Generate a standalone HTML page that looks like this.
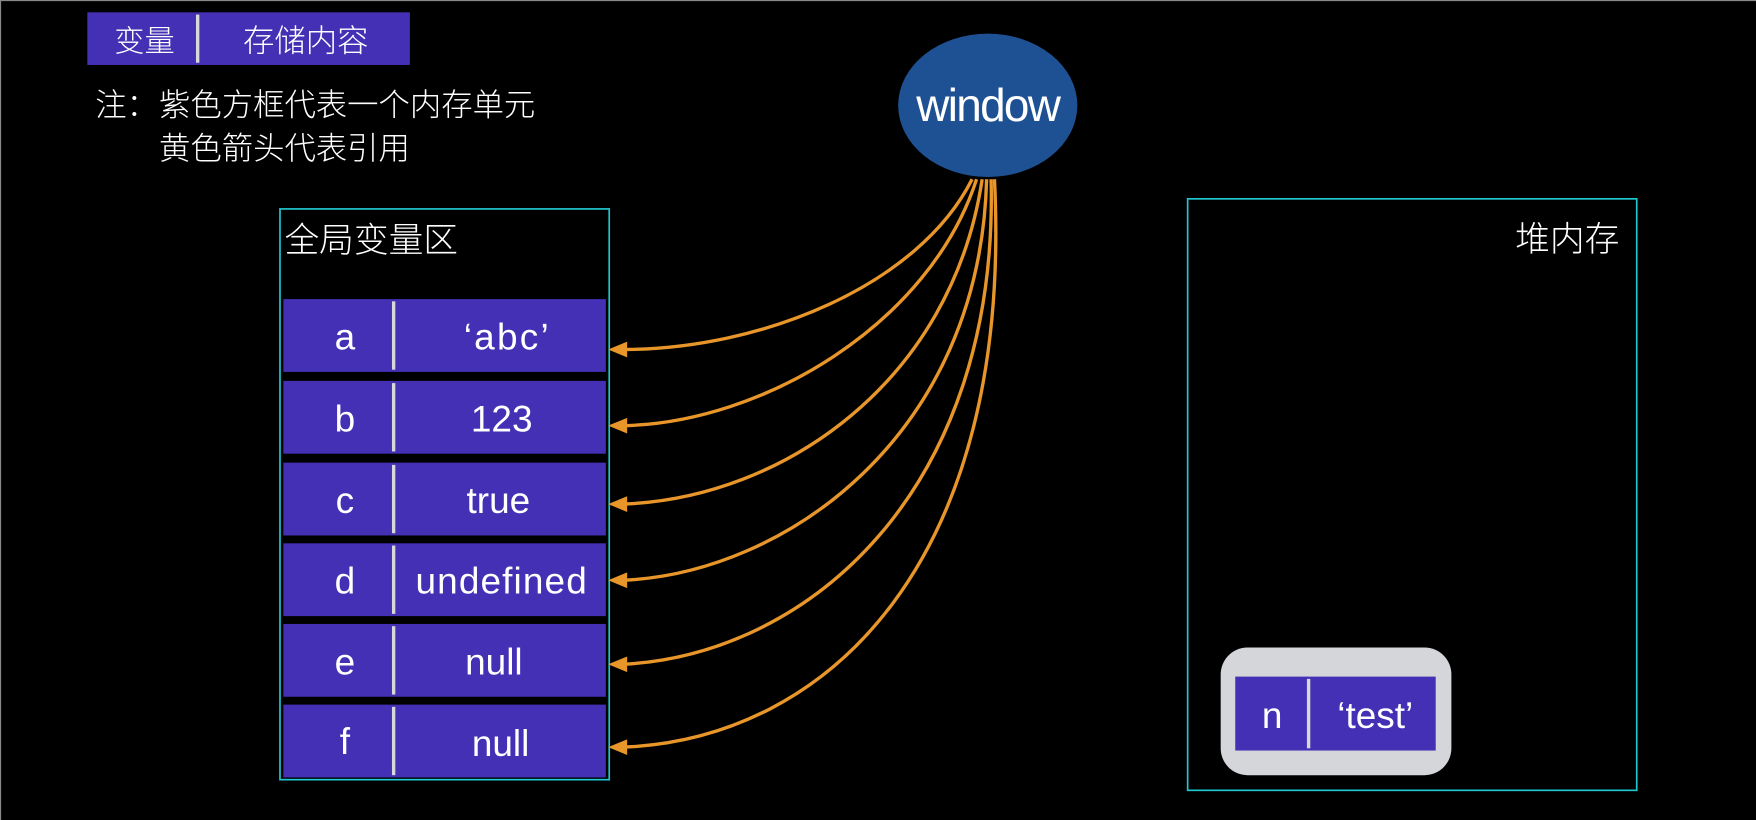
<!DOCTYPE html>
<html><head><meta charset="utf-8"><style>
html,body{margin:0;padding:0;background:#000;width:1756px;height:820px;overflow:hidden}
svg{display:block}
text{font-family:"Liberation Sans","Noto Sans CJK SC",sans-serif;fill:#fff}
.c{font-family:"Noto Sans CJK SC","WenQuanYi Zen Hei",sans-serif;font-weight:300}
</style></head><body>
<svg width="1756" height="820" viewBox="0 0 1568 732" preserveAspectRatio="none">
<rect x="0" y="0" width="1568" height="732" fill="#000"/>
<line x1="0" y1="0.5" x2="1568" y2="0.5" stroke="#888" stroke-width="1"/>
<line x1="0.5" y1="0" x2="0.5" y2="732" stroke="#888" stroke-width="1"/>
<!-- legend -->
<rect x="78" y="11" width="288" height="47" fill="#4330b5"/>
<rect x="175" y="13" width="3" height="43" fill="#d8d8d8"/>
<text class="c" x="129" y="46" font-size="27" text-anchor="middle">变量</text>
<text class="c" x="273" y="46" font-size="28" text-anchor="middle">存储内容</text>
<text class="c" x="85" y="103" font-size="28">注：</text>
<text class="c" x="142" y="103" font-size="28">紫色方框代表一个内存单元</text>
<text class="c" x="142" y="142" font-size="28">黄色箭头代表引用</text>
<!-- global area -->
<rect x="250" y="186.5" width="294" height="509.5" fill="none" stroke="#1fc7d0" stroke-width="1.5"/>
<text class="c" x="254" y="225" font-size="31">全局变量区</text>
<g font-size="33">
<rect x="253" y="267" width="288" height="65" fill="#4330b5"/><rect x="350" y="269" width="3" height="61" fill="#d8d8d8"/>
<text x="308" y="312" text-anchor="middle">a</text><text x="453" y="312" text-anchor="middle" letter-spacing="2">‘abc’</text>
<rect x="253" y="340" width="288" height="65" fill="#4330b5"/><rect x="350" y="342" width="3" height="61" fill="#d8d8d8"/>
<text x="308" y="385" text-anchor="middle">b</text><text x="448" y="385" text-anchor="middle">123</text>
<rect x="253" y="413" width="288" height="65" fill="#4330b5"/><rect x="350" y="415" width="3" height="61" fill="#d8d8d8"/>
<text x="308" y="458" text-anchor="middle">c</text><text x="445" y="458" text-anchor="middle">true</text>
<rect x="253" y="485" width="288" height="65" fill="#4330b5"/><rect x="350" y="487" width="3" height="61" fill="#d8d8d8"/>
<text x="308" y="530" text-anchor="middle">d</text><text x="448" y="530" text-anchor="middle" letter-spacing="1">undefined</text>
<rect x="253" y="557" width="288" height="65" fill="#4330b5"/><rect x="350" y="559" width="3" height="61" fill="#d8d8d8"/>
<text x="308" y="602" text-anchor="middle">e</text><text x="441" y="602" text-anchor="middle">null</text>
<rect x="253" y="629" width="288" height="65" fill="#4330b5"/><rect x="350" y="631" width="3" height="61" fill="#d8d8d8"/>
<text x="308" y="673" text-anchor="middle">f</text><text x="447" y="675" text-anchor="middle">null</text>
</g>
<!-- window -->
<ellipse cx="882" cy="94" rx="80" ry="64" fill="#1e5193"/>
<text x="882" y="108" font-size="41" text-anchor="middle" letter-spacing="-1.5">window</text>
<!-- arrows -->
<g fill="none" stroke="#e8962a" stroke-width="3">
<path d="M868 160 C820 255 680 312 556 312"/>
<path d="M872 160 C830 290 680 378 556 380"/>
<path d="M877 160 C850 340 700 445 556 450"/>
<path d="M881 160 C875 390 700 512 556 518"/>
<path d="M885 160 C892 440 720 585 556 593"/>
<path d="M888 160 C905 500 740 660 556 667"/>
</g>
<g fill="#e8962a">
<polygon points="543,312 560,305 560,319"/>
<polygon points="543,380 560,373 560,387"/>
<polygon points="543,450 560,443 560,457"/>
<polygon points="543,518 560,511 560,525"/>
<polygon points="543,593 560,586 560,600"/>
<polygon points="543,667 560,660 560,674"/>
</g>
<!-- heap -->
<rect x="1060.5" y="177.5" width="401" height="528" fill="none" stroke="#1fc7d0" stroke-width="1.5"/>
<text class="c" x="1446" y="224" font-size="31" text-anchor="end">堆内存</text>
<rect x="1090" y="578" width="206" height="114" rx="24" fill="#d5d6da"/>
<rect x="1103" y="604" width="179" height="66" fill="#4330b5"/>
<rect x="1167" y="606" width="3" height="62" fill="#d8d8d8"/>
<text x="1136" y="650" font-size="33" text-anchor="middle">n</text>
<text x="1228" y="650" font-size="33" text-anchor="middle">‘test’</text>
</svg>
</body></html>
